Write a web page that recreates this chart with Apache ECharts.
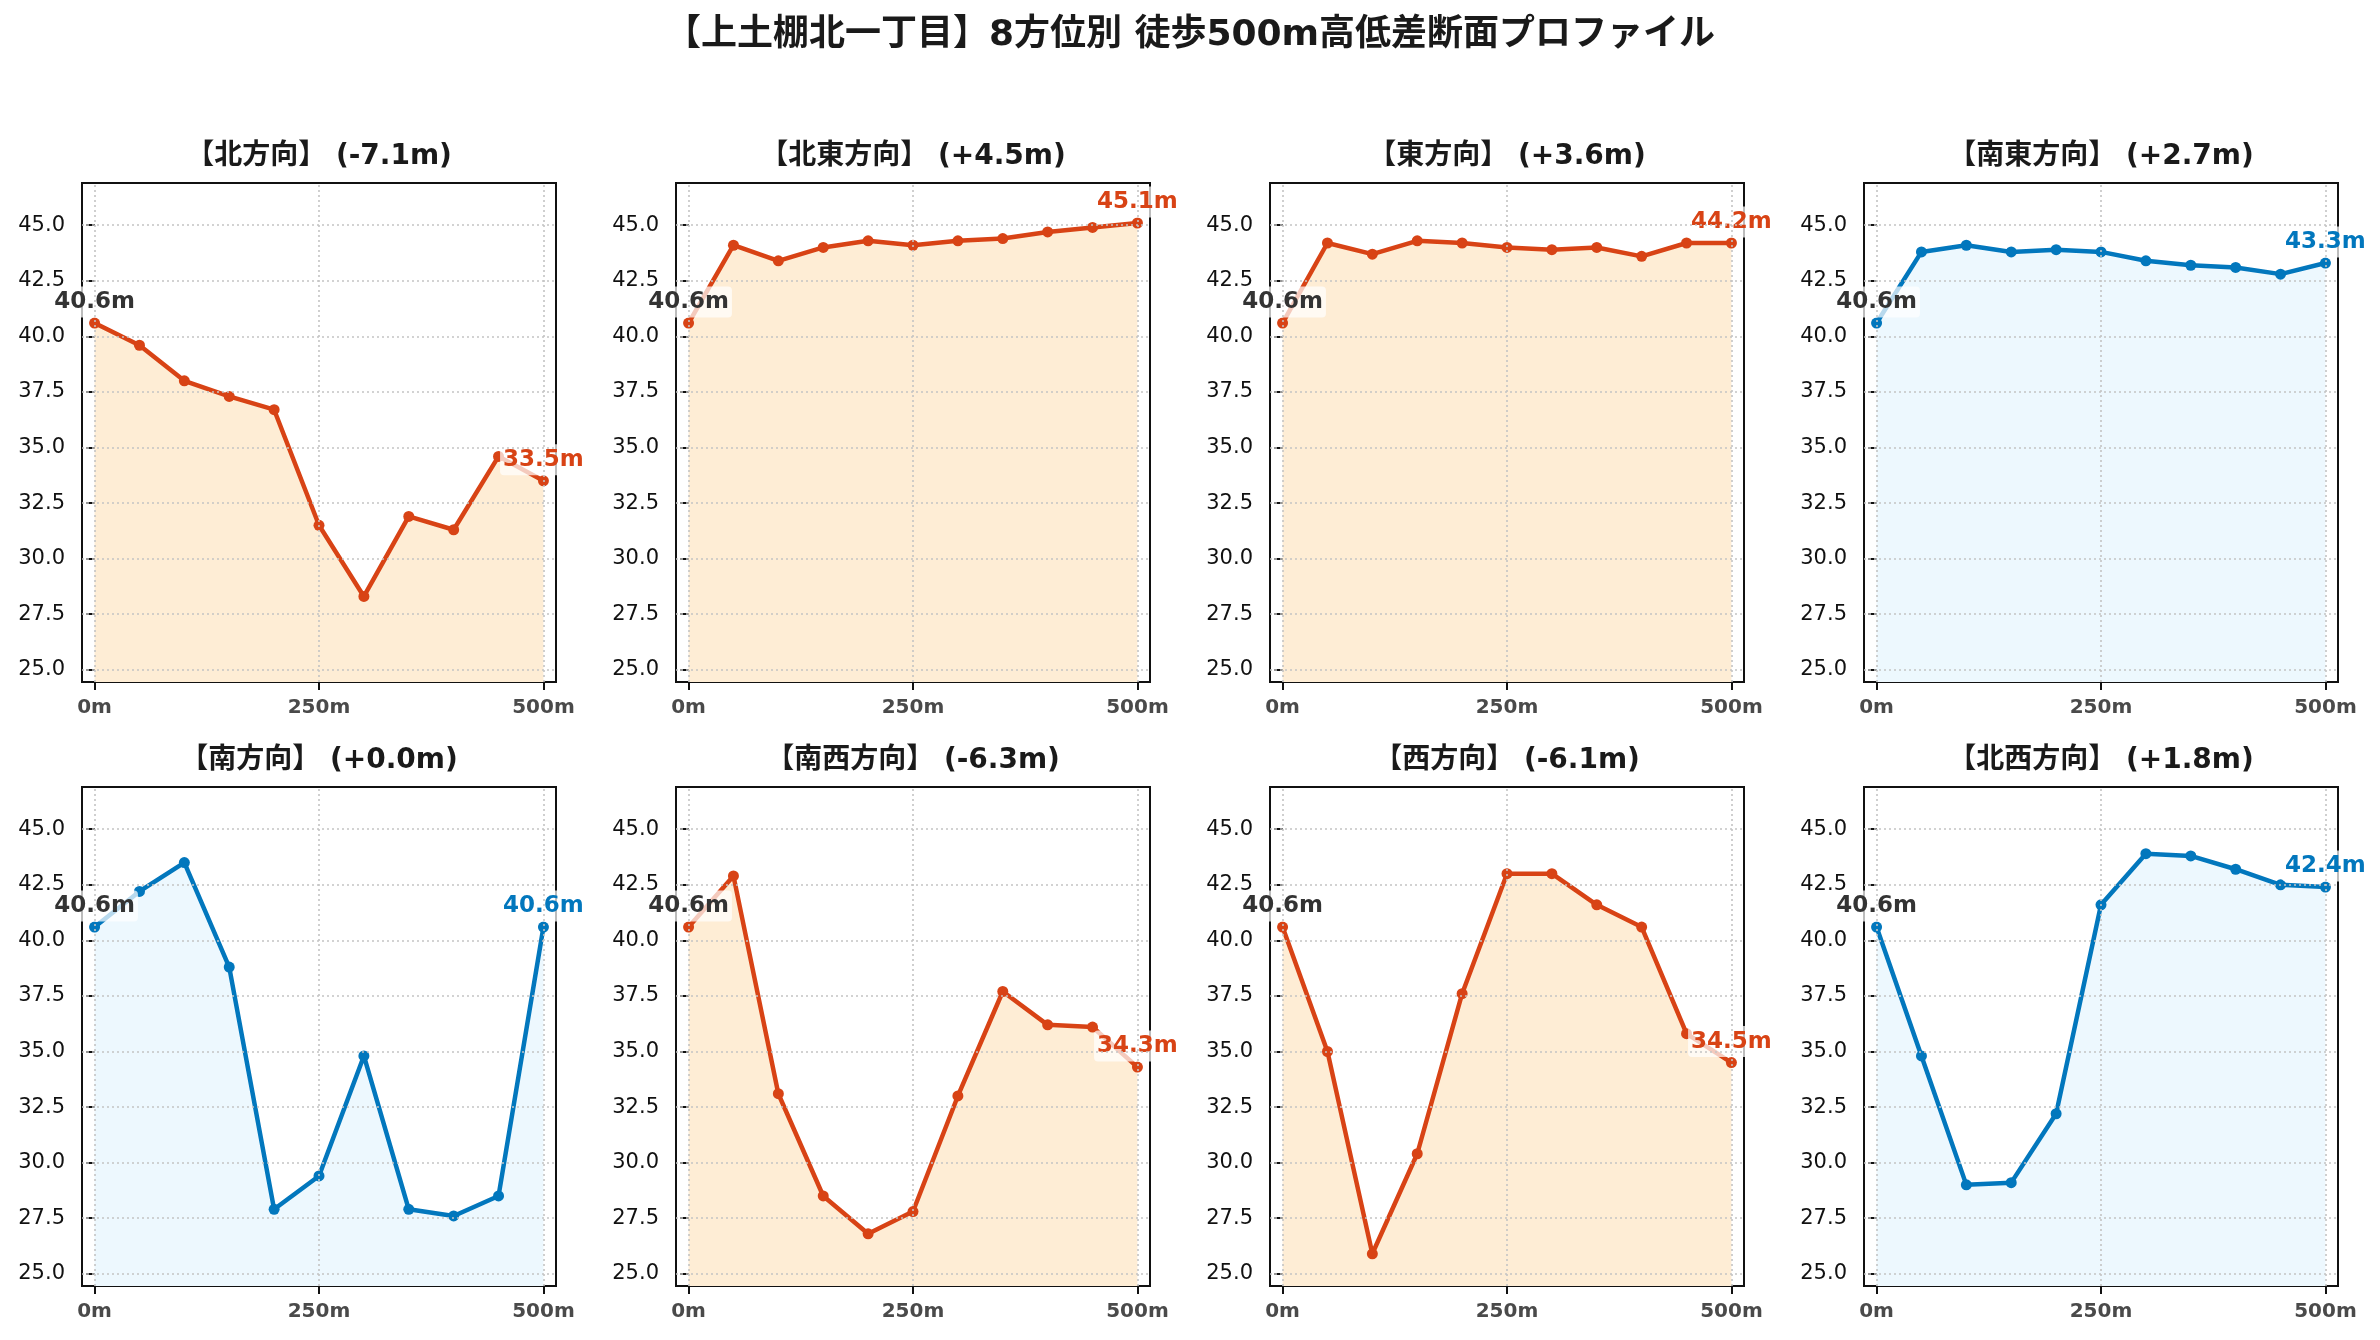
<!DOCTYPE html>
<html>
<head>
<meta charset="utf-8">
<title>8方位別 高低差断面プロファイル</title>
<script src="https://cdn.jsdelivr.net/npm/echarts@6/dist/echarts.min.js"></script>
<style>
  html, body { margin: 0; padding: 0; background: #fff; }
  #main { width: 2380px; height: 1340px; }
</style>
</head>
<body>
<div id="main"></div>
<script>
// distances along each walk (m)
var distances = [0, 50, 100, 150, 200, 250, 300, 350, 400, 450, 500];

// direction names, in panel order
var directions = ['北', '北東', '東', '南東', '南', '南西', '西', '北西'];

// elevation (m) read at each distance
var elevNorth     = [40.6, 39.6, 38.0, 37.3, 36.7, 31.5, 28.3, 31.9, 31.3, 34.6, 33.5];
var elevNorthEast = [40.6, 44.1, 43.4, 44.0, 44.3, 44.1, 44.3, 44.4, 44.7, 44.9, 45.1];
var elevEast      = [40.6, 44.2, 43.7, 44.3, 44.2, 44.0, 43.9, 44.0, 43.6, 44.2, 44.2];
var elevSouthEast = [40.6, 43.8, 44.1, 43.8, 43.9, 43.8, 43.4, 43.2, 43.1, 42.8, 43.3];
var elevSouth     = [40.6, 42.2, 43.5, 38.8, 27.9, 29.4, 34.8, 27.9, 27.6, 28.5, 40.6];
var elevSouthWest = [40.6, 42.9, 33.1, 28.5, 26.8, 27.8, 33.0, 37.7, 36.2, 36.1, 34.3];
var elevWest      = [40.6, 35.0, 25.9, 30.4, 37.6, 43.0, 43.0, 41.6, 40.6, 35.8, 34.5];
var elevNorthWest = [40.6, 34.8, 29.0, 29.1, 32.2, 41.6, 43.9, 43.8, 43.2, 42.5, 42.4];

var elevations = [elevNorth, elevNorthEast, elevEast, elevSouthEast,
                  elevSouth, elevSouthWest, elevWest, elevNorthWest];

// colour scheme of each panel
var panelTheme = ['warm', 'warm', 'warm', 'cool', 'cool', 'warm', 'warm', 'cool'];

// ticks
var yTicks = [25, 27.5, 30, 32.5, 35, 37.5, 40, 42.5, 45];
var xTicks = [0, 250, 500];
var xTickLabels = ['0m', '250m', '500m'];

var themes = {
  warm: { line: '#D84315', fill: '#FEEDD5' },
  cool: { line: '#0277BD', fill: '#EDF8FE' }
};

var latin = '"DejaVu Sans", "Noto Sans CJK JP", sans-serif';

var colLeft = [82, 676, 1270, 1864];
var rowTop = [183, 787];
var gridW = 474, gridH = 499;

var grids = [], xAxes = [], yAxes = [], series = [], titles = [];

titles.push({
  text: '【上土棚北一丁目】8方位別 徒歩500m高低差断面プロファイル',
  left: 1190, top: 18, textAlign: 'center', padding: 0,
  textStyle: { fontSize: 36, fontWeight: 'bold', color: '#1a1a1a', fontFamily: latin }
});

for (var i = 0; i < directions.length; i++) {
  var col = i % 4, row = Math.floor(i / 4);
  var elev = elevations[i];
  var th = themes[panelTheme[i]];
  var diff = elev[elev.length - 1] - elev[0];
  var diffTxt = (diff >= 0 ? '+' : '') + diff.toFixed(1) + 'm';

  grids.push({
    left: colLeft[col], top: rowTop[row], width: gridW, height: gridH,
    show: true, borderColor: '#111', borderWidth: 2, backgroundColor: 'transparent'
  });

  titles.push({
    text: '【' + directions[i] + '方向】 (' + diffTxt + ')',
    left: colLeft[col] + gridW / 2, top: rowTop[row] - 40, textAlign: 'center', padding: 0,
    textStyle: { fontSize: 28, fontWeight: 'bold', color: '#1a1a1a', fontFamily: latin }
  });

  xAxes.push({
    type: 'value', gridIndex: i, min: -14, max: 514,
    axisLine: { show: false },
    splitLine: { show: false },
    axisTick: { show: true, customValues: xTicks, length: 8, lineStyle: { color: '#111', width: 2 } },
    axisLabel: {
      show: true, customValues: xTicks, margin: 16,
      formatter: function (v) { return xTickLabels[xTicks.indexOf(v)]; },
      fontSize: 20, fontWeight: 'bold', color: '#4a4a4a', fontFamily: latin
    }
  });

  yAxes.push({
    type: 'value', gridIndex: i, min: 24.45, max: 46.9,
    axisLine: { show: false },
    splitLine: { show: false },
    axisTick: { show: true, customValues: yTicks, length: 8, lineStyle: { color: '#111', width: 2 } },
    axisLabel: {
      show: true, customValues: yTicks, margin: 17,
      formatter: function (v) { return v.toFixed(1); },
      fontSize: 21, color: '#111', fontFamily: latin
    }
  });

  var pts = [];
  for (var k = 0; k < distances.length; k++) pts.push([distances[k], elev[k]]);

  // filled area underneath
  series.push({
    type: 'line', xAxisIndex: i, yAxisIndex: i, z: 1, silent: true,
    data: pts, showSymbol: false, symbol: 'none',
    lineStyle: { width: 0, opacity: 0 },
    areaStyle: { color: th.fill, opacity: 1, origin: 'start' }
  });

  // dotted grid on top of the fill
  var gridLines = [];
  for (var a = 0; a < yTicks.length; a++) gridLines.push({ yAxis: yTicks[a] });
  for (var b = 0; b < xTicks.length; b++) gridLines.push({ xAxis: xTicks[b] });
  series.push({
    type: 'line', xAxisIndex: i, yAxisIndex: i, z: 2, silent: true,
    data: pts, showSymbol: false, symbol: 'none',
    lineStyle: { width: 0, opacity: 0 },
    markLine: {
      silent: true, symbol: 'none', animation: false,
      label: { show: false },
      lineStyle: { type: [2, 3], color: '#c4c4c4', width: 1.6 },
      data: gridLines
    }
  });

  // profile line with markers and end labels
  var lineData = [];
  for (var m = 0; m < pts.length; m++) {
    var item = { value: pts[m] };
    if (m === 0 || m === pts.length - 1) {
      item.label = { show: true, color: m === 0 ? '#333' : th.line };
    }
    lineData.push(item);
  }
  series.push({
    type: 'line', xAxisIndex: i, yAxisIndex: i, z: 3,
    data: lineData, symbol: 'circle', symbolSize: 11, showAllSymbol: true,
    lineStyle: { color: th.line, width: 4.5 },
    itemStyle: { color: th.line },
    label: {
      show: false, position: 'top', distance: 0,
      formatter: function (p) { return p.value[1].toFixed(1) + 'm'; },
      fontSize: 23, fontWeight: 'bold', fontFamily: latin, lineHeight: 23,
      backgroundColor: 'rgba(255,255,255,0.72)', padding: [4, 3], borderRadius: 4
    },
    labelLayout: { hideOverlap: false }
  });
}

var chart = echarts.init(document.getElementById('main'), null, { renderer: 'canvas' });
chart.setOption({
  animation: false,
  backgroundColor: '#fff',
  title: titles,
  grid: grids,
  xAxis: xAxes,
  yAxis: yAxes,
  series: series
});
</script>
</body>
</html>
